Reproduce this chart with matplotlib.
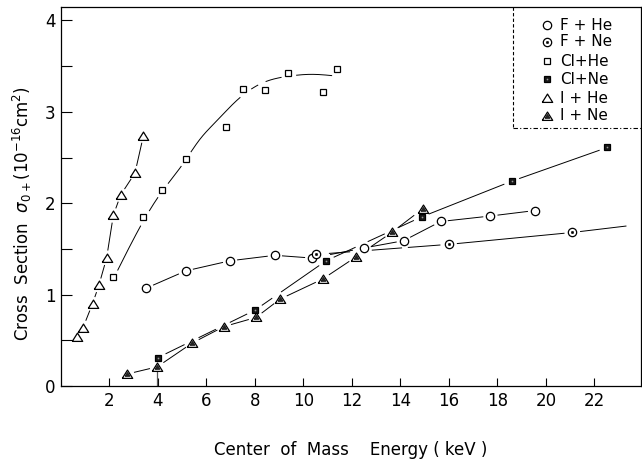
import numpy as np
import matplotlib
matplotlib.use('Agg')
import matplotlib.pyplot as plt
from matplotlib.ticker import MultipleLocator, FixedLocator

plt.rcParams['font.family'] = ['DejaVu Sans']
plt.rcParams['mathtext.fontset'] = 'dejavusans'

# ---------------- data ----------------
fhe_x = [3.51, 5.15, 6.97, 8.82, 10.36, 12.49, 14.13, 15.66, 17.71, 19.55]
fhe_y = [1.07, 1.26, 1.37, 1.43, 1.40, 1.51, 1.59, 1.80, 1.86, 1.92]

fne_x = [10.51, 16.0, 21.09]
fne_y = [1.44, 1.55, 1.68]
fne_tail_x = [23.3]
fne_tail_y = [1.75]

clhe_x = [2.13, 3.37, 4.15, 5.15, 6.80, 7.49, 8.41, 9.37, 10.82, 11.39]
clhe_y = [1.19, 1.85, 2.15, 2.48, 2.83, 3.25, 3.24, 3.43, 3.22, 3.47]
# hand-drawn fitted curve through the Cl+He points
clhe_fit_x = [2.25, 3.26, 4.04, 5.0, 5.73, 6.42, 7.15, 8.34, 9.4, 10.27, 11.39]
clhe_fit_y = [1.22, 1.74, 2.08, 2.42, 2.70, 2.90, 3.10, 3.32, 3.39, 3.41, 3.39]

clne_x = [3.99, 8.0, 10.93, 14.87, 18.58, 22.53]
clne_y = [0.31, 0.83, 1.37, 1.85, 2.24, 2.61]

ihe_x = [0.68, 0.91, 1.30, 1.56, 1.88, 2.16, 2.46, 3.05, 3.40]
ihe_y = [0.54, 0.64, 0.90, 1.10, 1.40, 1.87, 2.09, 2.33, 2.74]

ine_x = [2.71, 3.97, 5.41, 6.72, 8.04, 9.03, 10.79, 12.15, 13.64, 14.92]
ine_y = [0.13, 0.21, 0.47, 0.65, 0.75, 0.95, 1.17, 1.41, 1.68, 1.94]

x_ticks = [2, 4, 6, 8, 10, 12, 14, 16, 18, 20, 22]
y_ticks = [0, 1, 2, 3, 4]
legend_labels = ['F + He', 'F + Ne', 'Cl+He', 'Cl+Ne', 'I + He', 'I + Ne']

# ---------------- figure ----------------
W, H = 642, 461
fig = plt.figure(figsize=(W / 100, H / 100), dpi=100)
ax = fig.add_axes([61 / W, 1 - 386 / H, (641 - 61) / W, (386 - 7) / H])
ax.set_xlim(0, 23.92)
ax.set_ylim(0, 4.147)

for s in ax.spines.values():
    s.set_linewidth(0.9)

ax.xaxis.set_major_locator(FixedLocator(x_ticks))
ax.set_xticklabels([str(t) for t in x_ticks])
ax.yaxis.set_major_locator(FixedLocator(y_ticks))
ax.set_yticklabels([str(t) for t in y_ticks])
ax.yaxis.set_minor_locator(MultipleLocator(0.5))
ax.tick_params(axis='x', which='major', direction='in', length=6, width=0.8,
               labelsize=12, pad=4)
ax.tick_params(axis='y', which='both', direction='in', length=8, width=0.8,
               labelsize=12, pad=4)


def spline(xk, yk, xs):
    xk = np.asarray(xk, float)
    yk = np.asarray(yk, float)
    n = len(xk)
    h = np.diff(xk)
    A = np.zeros((n, n))
    b = np.zeros(n)
    A[0, 0] = A[-1, -1] = 1
    for i in range(1, n - 1):
        A[i, i - 1] = h[i - 1]
        A[i, i] = 2 * (h[i - 1] + h[i])
        A[i, i + 1] = h[i]
        b[i] = 3 * ((yk[i + 1] - yk[i]) / h[i] - (yk[i] - yk[i - 1]) / h[i - 1])
    c = np.linalg.solve(A, b)
    out = np.empty_like(xs)
    for j, x in enumerate(xs):
        i = min(max(np.searchsorted(xk, x) - 1, 0), n - 2)
        dx = x - xk[i]
        bb = (yk[i + 1] - yk[i]) / h[i] - h[i] * (2 * c[i] + c[i + 1]) / 3
        d = (c[i + 1] - c[i]) / (3 * h[i])
        out[j] = yk[i] + bb * dx + c[i] * dx ** 2 + d * dx ** 3
    return out


def densify(xs, ys, n=60):
    px, py = [], []
    for i in range(len(xs) - 1):
        t = np.linspace(0, 1, n)
        px.extend(xs[i] + (xs[i + 1] - xs[i]) * t)
        py.extend(ys[i] + (ys[i + 1] - ys[i]) * t)
    return np.array(px), np.array(py)


all_mx = np.array(fhe_x + fne_x + clhe_x + clne_x + ihe_x + ine_x, float)
all_my = np.array(fhe_y + fne_y + clhe_y + clne_y + ihe_y + ine_y, float)
M = ax.transData.transform(np.column_stack([all_mx, all_my]))


def gapped(xs, ys, r=7.5, **kw):
    P = ax.transData.transform(np.column_stack([xs, ys]))
    d = np.sqrt(((P[:, None, :] - M[None, :, :]) ** 2).sum(-1)).min(1)
    xs = np.array(xs, float).copy()
    ys = np.array(ys, float).copy()
    xs[d < r] = np.nan
    ys[d < r] = np.nan
    ax.plot(xs, ys, color='black', lw=0.7, zorder=2, **kw)


# connecting lines
gapped(*densify(fhe_x, fhe_y))
gapped(*densify(fne_x + fne_tail_x, fne_y + fne_tail_y))
gapped(*densify(clne_x, clne_y))
gapped(*densify(ihe_x, ihe_y))
gapped(*densify(ine_x, ine_y))
fx = np.linspace(clhe_fit_x[0], clhe_fit_x[-1], 400)
gapped(fx, spline(clhe_fit_x, clhe_fit_y, fx), r=8.5)
# vertical stroke under the I+Ne point at 4 keV
ax.plot([ine_x[1], ine_x[1]], [0, ine_y[1] - 0.04], color='0.35', lw=0.9, zorder=2)

tri = [(-1, -0.75), (1, -0.75), (0, 0.85), (-1, -0.75)]
mk = dict(linestyle='none', markeredgecolor='black', markeredgewidth=0.9, zorder=4)


def draw_fhe(x, y, **t):
    ax.plot(x, y, marker='o', ms=6, mfc='white', **mk, **t)


def draw_fne(x, y, **t):
    ax.plot(x, y, marker='o', ms=6, mfc='white', **mk, **t)
    ax.plot(x, y, marker='o', ms=1.8, mfc='black', linestyle='none',
            mec='black', mew=0.3, zorder=5, **t)


def draw_clhe(x, y, **t):
    ax.plot(x, y, marker='s', ms=4.5, mfc='white', **mk, **t)


def draw_clne(x, y, **t):
    ax.plot(x, y, marker='s', ms=4.5, mfc='#1a1a1a', **mk, **t)
    ax.plot(x, y, marker='o', ms=1.2, mfc='#9a9a9a', mec='none',
            linestyle='none', zorder=5, **t)


def draw_ihe(x, y, **t):
    ax.plot(x, y, marker=tri, ms=7.5, mfc='white', **mk, **t)


def draw_ine(x, y, **t):
    ax.plot(x, y, marker=tri, ms=7.5, mfc='white', **mk, **t)
    ax.plot(x, y, marker=tri, ms=3.2, mfc='#222222', mec='#222222',
            linestyle='none', zorder=5, **t)


draw_fhe(fhe_x, fhe_y)
draw_fne(fne_x, fne_y)
draw_clhe(clhe_x, clhe_y)
draw_clne(clne_x, clne_y)
draw_ihe(ihe_x, ihe_y)
draw_ine(ine_x, ine_y)

# ---------------- legend (dashed box in upper right) ----------------
def afx(px):
    return (px - 61) / (641 - 61)


def afy(py):
    return (386 - py) / (386 - 7)


bx0, by0 = afx(513), afy(128)
ax.plot([bx0, bx0], [1, by0], transform=ax.transAxes, color='black', lw=0.8,
        linestyle=(0, (3, 2)), clip_on=False, zorder=3)
ax.plot([bx0, 1], [by0, by0], transform=ax.transAxes, color='black', lw=0.8,
        linestyle=(0, (4, 2, 1, 2)), clip_on=False, zorder=3)

drawers = [draw_fhe, draw_fne, draw_clhe, draw_clne, draw_ihe, draw_ine]
row_py = [25, 42, 61, 79, 98, 116]
for fn, lab, py in zip(drawers, legend_labels, row_py):
    fn([afx(547)], [afy(py)], transform=ax.transAxes, clip_on=False)
    ax.text(afx(560), afy(py), lab, transform=ax.transAxes, ha='left',
            va='center', fontsize=11)

# ---------------- axis titles ----------------
fig.text(22 / W, 1 - 214 / H,
         r'Cross  Section  $\sigma_{0+}$(10$^{-16}$cm$^{2}$)',
         rotation=90, ha='center', va='center', fontsize=12)
fig.text(351 / W, 1 - 450 / H, 'Center  of  Mass    Energy ( keV )',
         ha='center', va='center', fontsize=12)

fig.savefig('out.png', dpi=100)
